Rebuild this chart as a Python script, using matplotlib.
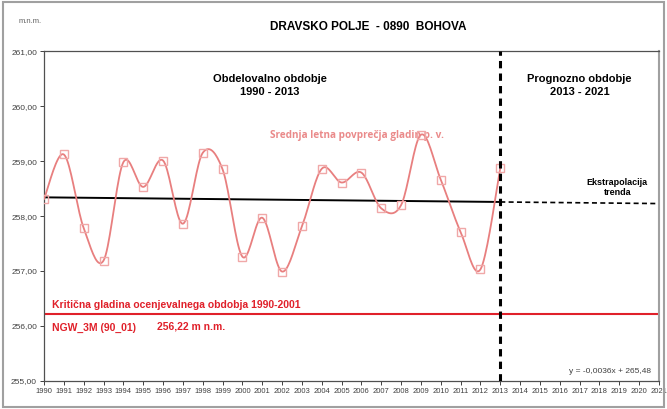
import numpy as np
import matplotlib
matplotlib.use('Agg')
import matplotlib.pyplot as plt
from matplotlib.patches import Rectangle
from matplotlib.ticker import FuncFormatter

plt.rcParams['font.family'] = ['Liberation Sans', 'DejaVu Sans']

# data (letna povprecja gladin, m n.m.)
years = np.arange(1990, 2014)
levels = [258.31, 259.12, 257.78, 257.19, 258.98, 258.53, 259.01, 257.86,
          259.15, 258.85, 257.26, 257.97, 256.99, 257.81, 258.86, 258.61,
          258.79, 258.14, 258.20, 259.48, 258.66, 257.71, 257.03, 258.87]
forecast_end = 2021
critical = 256.22
xticks = np.arange(1990, 2022)
yticks = np.arange(255, 262)


def smooth(x, y, n=20):
    # Catmull-Rom style smoothing (like Excel's smoothed line)
    x = np.asarray(x, float); y = np.asarray(y, float)
    px = np.concatenate([[x[0]], x, [x[-1]]])
    py = np.concatenate([[y[0]], y, [y[-1]]])
    xs, ys = [], []
    t = np.linspace(0, 1, n)
    for i in range(1, len(px) - 2):
        p0, p1, p2, p3 = (np.array([px[j], py[j]]) for j in range(i - 1, i + 3))
        c1 = p1 + (p2 - p0) / 6
        c2 = p2 - (p3 - p1) / 6
        b = ((1 - t)**3)[:, None] * p1 + (3 * (1 - t)**2 * t)[:, None] * c1 \
            + (3 * (1 - t) * t**2)[:, None] * c2 + (t**3)[:, None] * p2
        xs.append(b[:, 0]); ys.append(b[:, 1])
    return np.concatenate(xs), np.concatenate(ys)


fig = plt.figure(figsize=(6.67, 4.09), dpi=100)
ax = fig.add_axes([0.066, 0.0685, 0.922, 0.8065])
fig.patches.append(Rectangle((0.004, 0.004), 0.992, 0.99, transform=fig.transFigure,
                             fill=False, edgecolor='#a0a0a0', linewidth=1.5))

# smoothed series
sx, sy = smooth(years, levels)
ax.plot(sx, sy, color='#e87f7f', lw=1.3, zorder=3)
ax.plot(years, levels, ls='none', marker='s', ms=6, mfc='none', mec='#f0a8a8', mew=1, zorder=4)

# trend
k, n = np.polyfit(years, levels, 1)
ax.plot([years[0], years[-1]], [k * years[0] + n, k * years[-1] + n], color='black', lw=1.4, zorder=2)
ax.plot([years[-1], forecast_end], [k * years[-1] + n, k * forecast_end + n], color='black',
        lw=1.2, ls=(0, (3, 2)), zorder=2)

# critical level
ax.axhline(critical, color='#e0202a', lw=1.5, zorder=2)
# period split
ax.axvline(years[-1], color='black', lw=2.2, ls=(0, (2.4, 1.7)), zorder=5)

ax.set_xlim(1990, 2021)
ax.set_ylim(255, 261)
ax.set_xticks(xticks)
ax.set_yticks(yticks)
ax.yaxis.set_major_formatter(FuncFormatter(lambda v, p: f'{v:.2f}'.replace('.', ',')))
ax.tick_params(axis='both', labelsize=5.5, colors='#404040', length=3, width=0.7, pad=2)
ax.tick_params(axis='y', labelsize=6)
for s in ax.spines.values():
    s.set_color('#505050')
    s.set_linewidth(0.9)
ax.spines['right'].set_color('#a0a0a0')
ax.spines['right'].set_linewidth(1.5)

fig.text(0.552, 0.933, 'DRAVSKO POLJE  - 0890  BOHOVA', ha='center', va='center',
         fontsize=8.5, fontweight='bold')
fig.text(0.028, 0.947, 'm.n.m.', ha='left', va='center', fontsize=5.5, color='#606060')

ax.text(2001.4, 260.38, 'Obdelovalno obdobje\n1990 - 2013', ha='center', va='center',
        fontsize=8, fontweight='bold', linespacing=1.35)
ax.text(2017.0, 260.38, 'Prognozno obdobje\n2013 - 2021', ha='center', va='center',
        fontsize=8, fontweight='bold', linespacing=1.35)
ax.text(2001.4, 259.47, 'Srednja letna povprečja gladin p. v.', ha='left', va='center',
        fontsize=7.2, fontweight='bold', color='#ea8a8a', family=['Open Sans', 'DejaVu Sans'])
ax.text(2018.9, 258.52, 'Ekstrapolacija\ntrenda', ha='center', va='center',
        fontsize=6.5, fontweight='bold', linespacing=1.15, multialignment='center')
ax.text(1990.4, 256.39, 'Kritična gladina ocenjevalnega obdobja 1990-2001', ha='left', va='center',
        fontsize=7.5, fontweight='bold', color='#e0202a')
ax.text(1990.4, 255.97, 'NGW_3M (90_01)', ha='left', va='center',
        fontsize=7.5, fontweight='bold', color='#e0202a')
ax.text(1995.7, 255.99, '256,22 m n.m.', ha='left', va='center',
        fontsize=7.5, fontweight='bold', color='#e0202a')
ax.text(2020.6, 255.17, 'y = -0,0036x + 265,48', ha='right', va='center',
        fontsize=6, color='#404040')

plt.savefig('out.png', dpi=100)
